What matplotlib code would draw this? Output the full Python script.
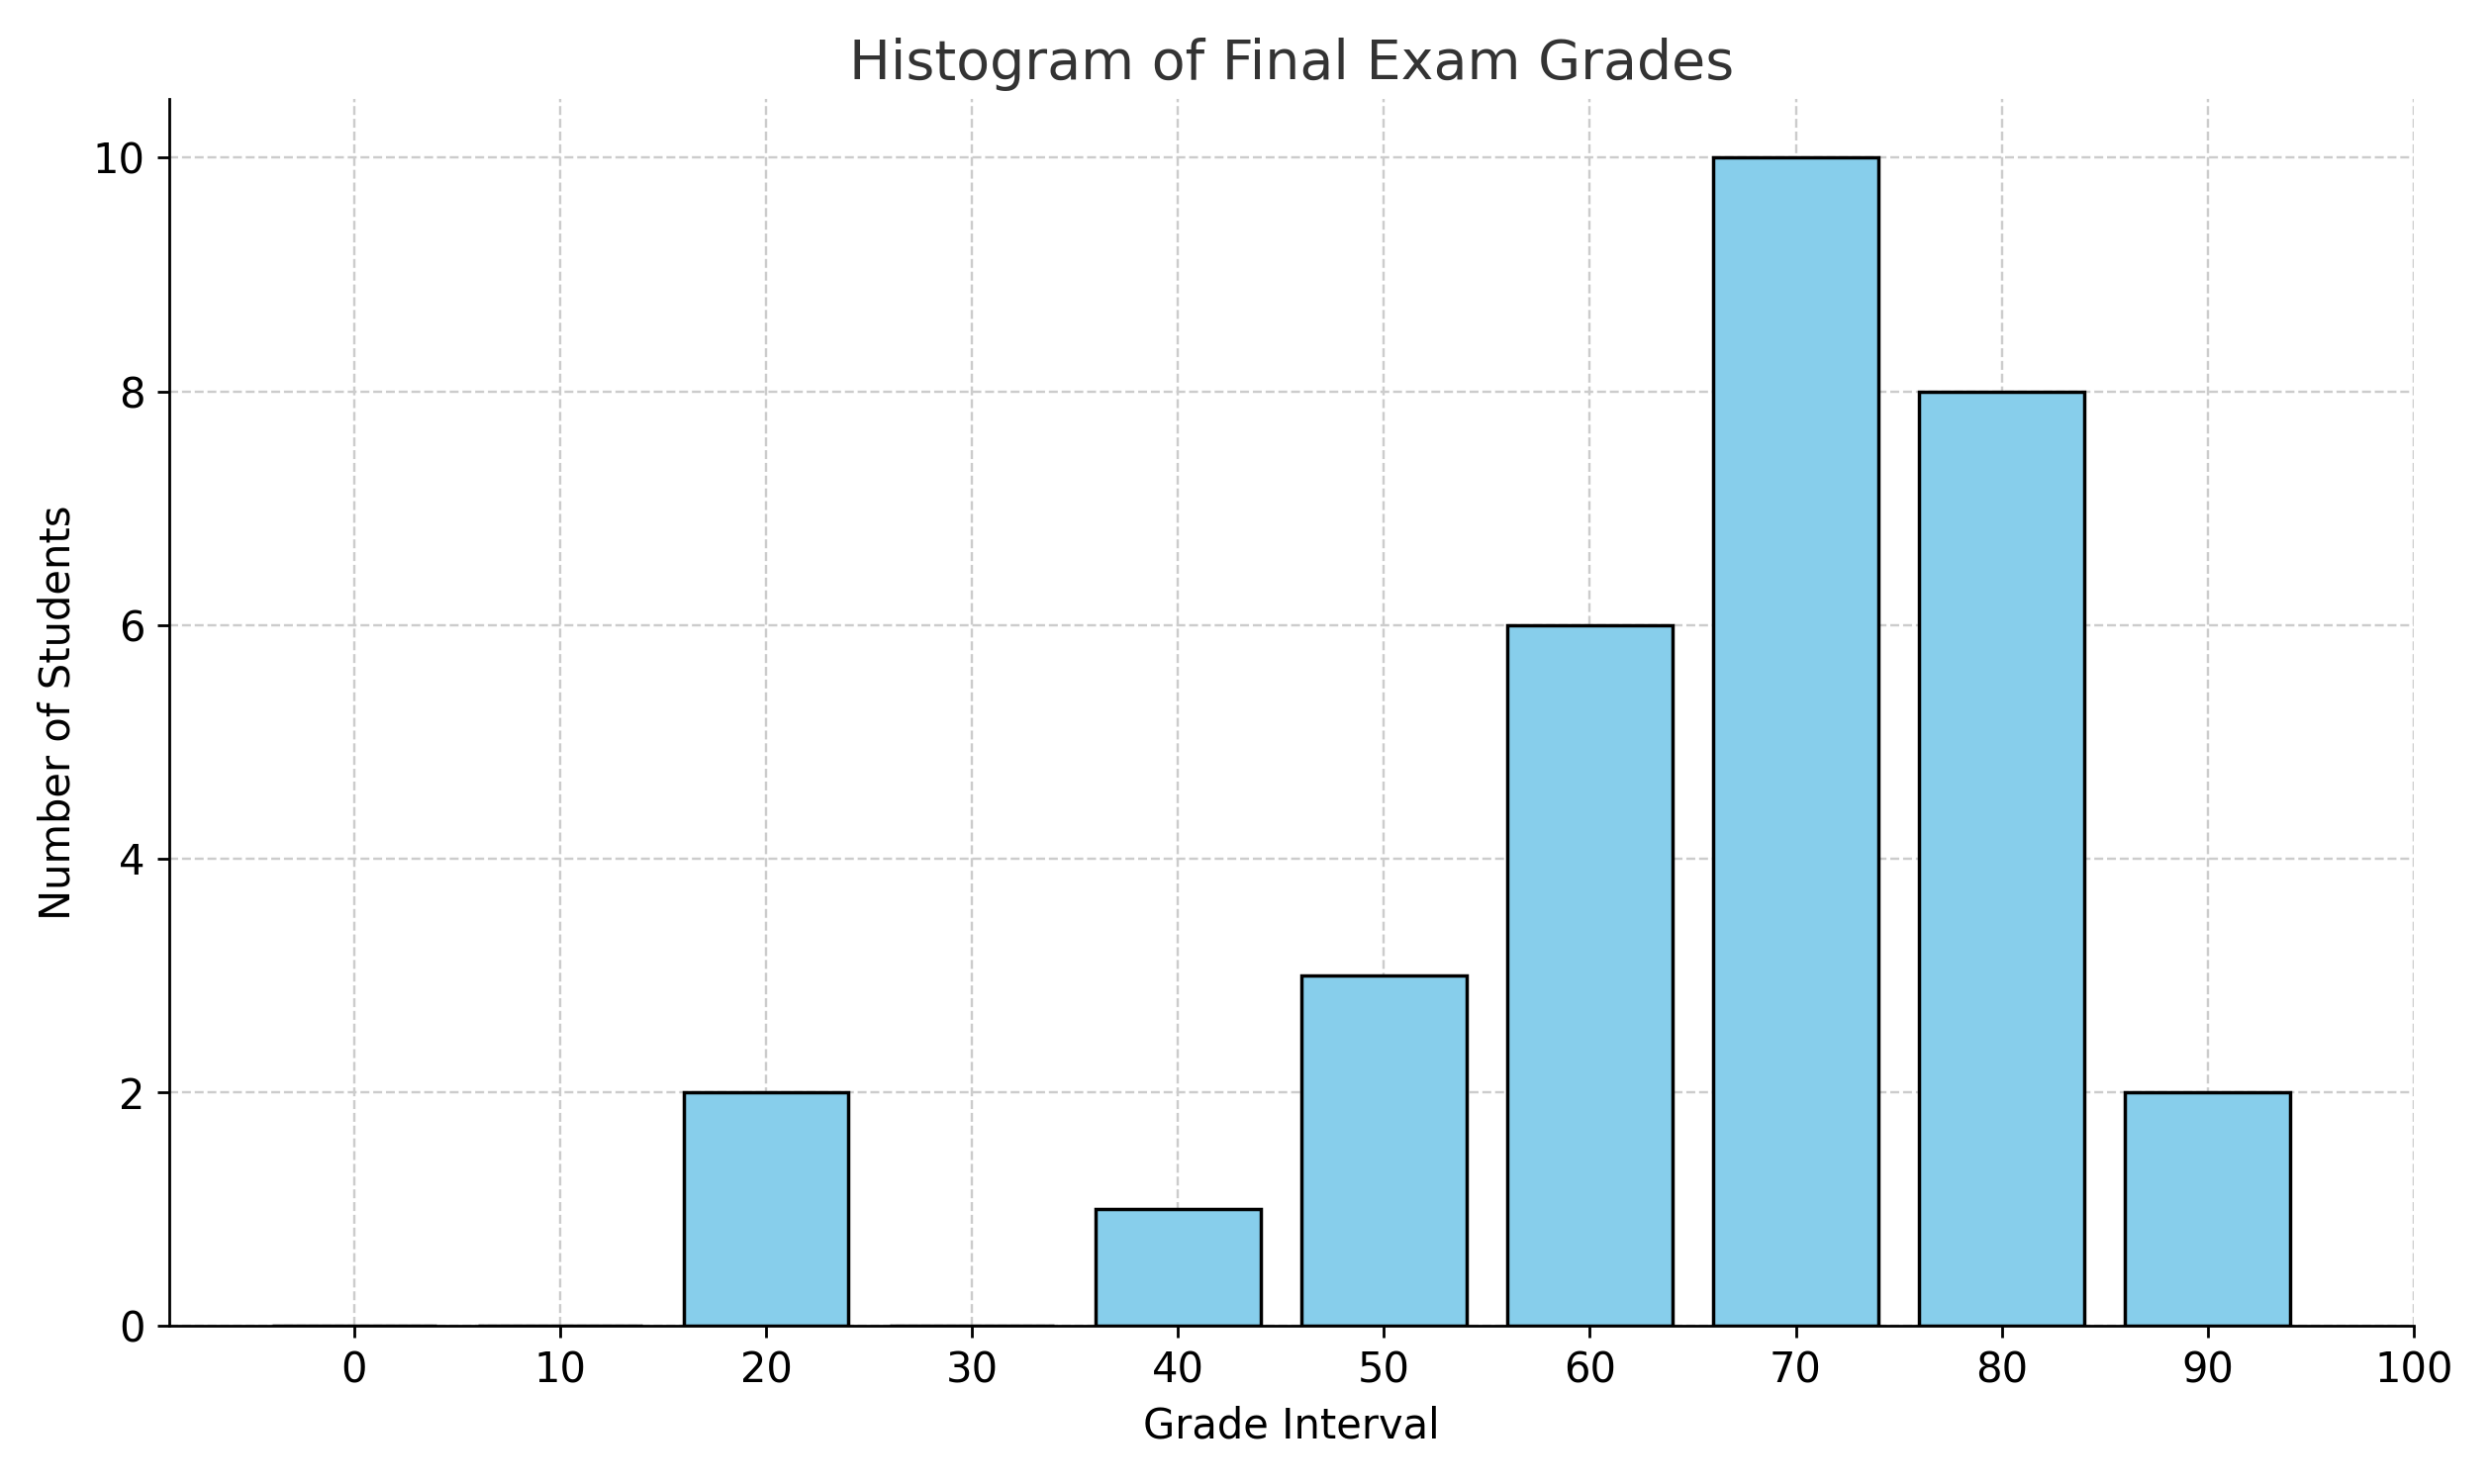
import matplotlib
matplotlib.use("Agg")
import matplotlib.pyplot as plt

grades = [0, 10, 20, 30, 40, 50, 60, 70, 80, 90]
counts = [0, 0, 2, 0, 1, 3, 6, 10, 8, 2]
xticks = [0, 10, 20, 30, 40, 50, 60, 70, 80, 90, 100]

fig, ax = plt.subplots(figsize=(10.064, 6), dpi=250)
ax.bar(grades, counts, width=8, color='skyblue', edgecolor='black', linewidth=1, zorder=3)
ax.set_xticks(xticks)
ax.set_xlim(-9, 100)
ax.set_ylim(0, 10.5)
ax.set_title("Histogram of Final Exam Grades", fontsize=16, color='#333333')
ax.set_xlabel("Grade Interval", fontsize=12)
ax.set_ylabel("Number of Students", fontsize=12)
ax.tick_params(labelsize=12)
ax.grid(True, linestyle='--', color='#cccccc', linewidth=0.7, zorder=0)
ax.spines['top'].set_visible(False)
ax.spines['right'].set_visible(False)
fig.tight_layout()
fig.savefig("out.png", dpi=250)
